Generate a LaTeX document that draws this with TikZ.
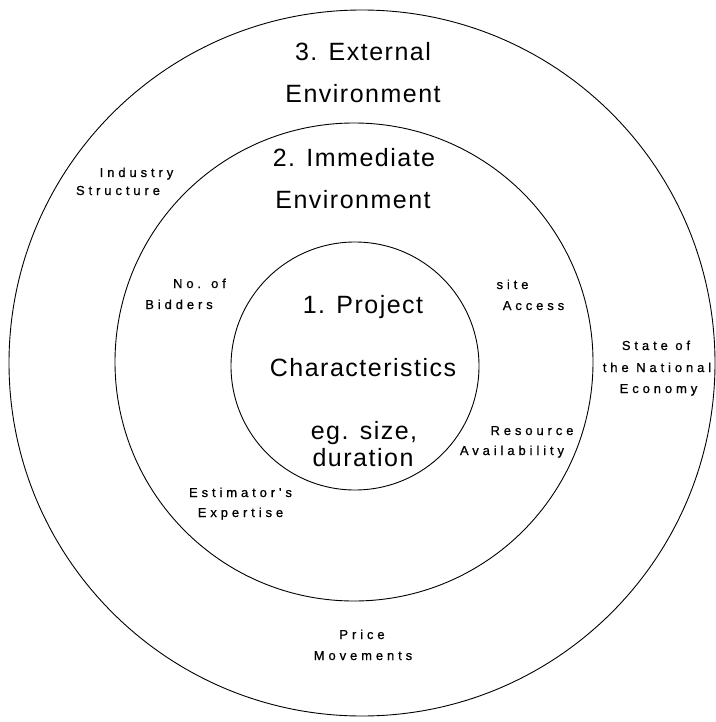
\documentclass[tikz,border=0pt]{standalone}
\usepackage{fontspec}
\setmainfont{Liberation Sans}
\newfontfamily\bigfont[LetterSpace=6]{Liberation Sans}
\newfontfamily\smallfont[LetterSpace=30,FakeBold=0.8]{Liberation Sans}
\begin{document}
\begin{tikzpicture}[x=1pt,y=-1pt,
  ring/.style={draw=black,line width=0.9pt},
  bigtxt/.style={anchor=base,inner sep=0pt,font=\bigfont\fontsize{25}{30}\selectfont},
  smalltxt/.style={anchor=base,inner sep=0pt,xshift=2pt,font=\smallfont\fontsize{13}{15}\selectfont}]
\useasboundingbox (0,0) rectangle (715,722);
\fill[white] (0,0) rectangle (715,722);
% circles
\node[ring,circle,minimum size=706pt,inner sep=0pt] (outer) at (362,363) {};
\node[ring,circle,minimum size=478pt,inner sep=0pt] (middle) at (354,362) {};
\node[ring,circle,minimum size=248pt,inner sep=0pt] (inner) at (355,366) {};
% large labels
\node[bigtxt] (ext1) at (363,61) {3. External};
\node[bigtxt] (ext2) at (363,103) {Environment};
\node[bigtxt] (imm1) at (354,167) {2. Immediate};
\node[bigtxt] (imm2) at (353,208) {Environment};
\node[bigtxt] (proj1) at (363,313) {1. Project};
\node[bigtxt] (proj2) at (363,376) {Characteristics};
\node[bigtxt] (proj3) at (364,439) {eg. size,};
\node[bigtxt] (proj4) at (363,466) {duration};
% small labels
\node[smalltxt] (ind1) at (134.5,177) {Industry};
\node[smalltxt] (ind2) at (116,195) {Structure};
\node[smalltxt] (bid1) at (197.5,288) {No. of};
\node[smalltxt] (bid2) at (177,309) {Bidders};
\node[smalltxt] (site1) at (510.5,289) {site};
\node[smalltxt] (site2) at (531.5,310) {Access};
\node[smalltxt] (nat1) at (654,350) {State of};
\node[smalltxt] (nat2) at (655,372) {the National};
\node[smalltxt] (nat3) at (656.5,393) {Economy};
\node[smalltxt] (res1) at (530,435) {Resource};
\node[smalltxt] (res2) at (510,455) {Availability};
\node[smalltxt] (est1) at (238.5,497) {Estimator's};
\node[smalltxt] (est2) at (238.5,517) {Expertise};
\node[smalltxt] (pri1) at (360,639) {Price};
\node[smalltxt] (pri2) at (361,660) {Movements};
\end{tikzpicture}
\end{document}
